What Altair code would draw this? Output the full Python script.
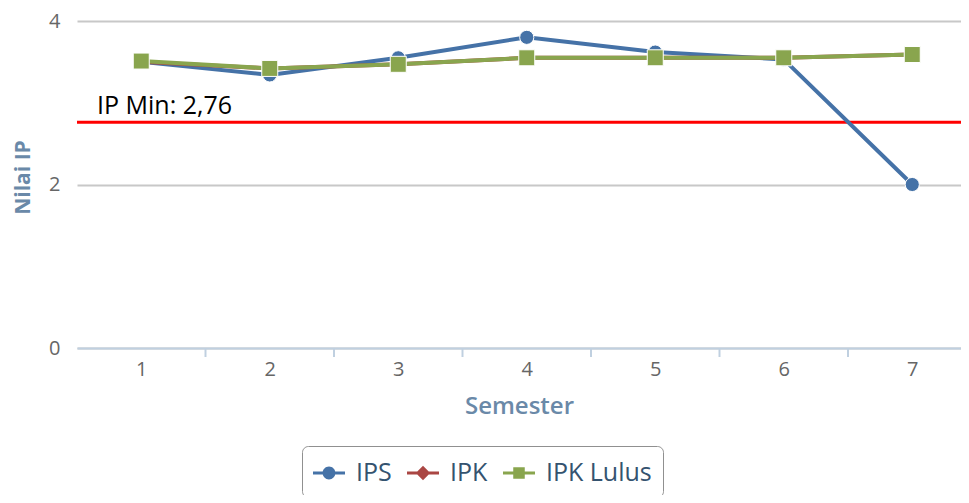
import altair as alt
import pandas as pd

# ---- data ----
semesters = [1, 2, 3, 4, 5, 6, 7]
ips = [3.50, 3.34, 3.55, 3.80, 3.62, 3.53, 2.00]
ipk = [3.50, 3.42, 3.47, 3.55, 3.55, 3.55, 3.59]
ipk_lulus = [3.51, 3.42, 3.47, 3.55, 3.55, 3.55, 3.59]
series_names = ["IPS", "IPK", "IPK Lulus"]
series_colors = ["#4572A7", "#AA4643", "#89A54E"]
series_shapes = ["circle", "diamond", "square"]
series_sizes = [200, 200, 256]
ip_min = 2.76
ip_min_label = "IP Min: 2,76"
y_ticks = [0, 2, 4]
tick_bounds = [1.5, 2.5, 3.5, 4.5, 5.5, 6.5]

rows = []
for name, vals in zip(series_names, [ips, ipk, ipk_lulus]):
    for s, v in zip(semesters, vals):
        rows.append({"semester": s, "nilai": v, "series": name})
df = pd.DataFrame(rows)
df_min = pd.DataFrame({"v": [ip_min], "label": [ip_min_label]})
df_ticks = pd.DataFrame({"b": tick_bounds})

FONT = "Open Sans"
TOP = 13
W, H = 884, 327
STEP = 128.5
x_scale = alt.Scale(domain=[0.5, 0.5 + W / STEP], nice=False, zero=False)
y_scale = alt.Scale(domain=[0, 4], nice=False, zero=True)

x_axis = alt.Axis(
    values=semesters, format="d", grid=False, ticks=False,
    domainColor="#C0D0E0", domainWidth=2,
    labelFont=FONT, labelFontSize=20, labelColor="#666666", labelPadding=11,
    labelFlush=False,
    titleFont=FONT, titleFontSize=24, titleFontWeight=600, titleColor="#6A89A8",
    titleY=58, titleBaseline="middle",
)
y_axis = alt.Axis(
    values=y_ticks, grid=True, gridColor="#C8C8C8", gridWidth=2,
    domain=False, ticks=False,
    labelFont=FONT, labelFontSize=20, labelColor="#666666", labelPadding=17,
    titleFont=FONT, titleFontSize=21, titleFontWeight="bold", titleColor="#6A89A8",
    titleX=-54, titleY=156, titleAngle=-90, titleBaseline="middle", titleAlign="center",
)

X = lambda f: alt.X(f, scale=x_scale, axis=x_axis, title="Semester")
Y = lambda f: alt.Y(f, scale=y_scale, axis=y_axis, title="Nilai IP")

layers = []

# minimum IP line and label
layers.append(
    alt.Chart(df_min).mark_rule(color="#FF0000", strokeWidth=3).encode(y=Y("v:Q"))
)
layers.append(
    alt.Chart(df_min).mark_text(
        align="left", baseline="alphabetic", dy=-8, font=FONT, fontSize=25, color="#000000"
    ).encode(x=alt.value(20), y=Y("v:Q"), text="label:N")
)

# category boundary tick marks on the x axis
layers.append(
    alt.Chart(df_ticks).mark_rule(color="#C0D0E0", strokeWidth=2).encode(
        x=X("b:Q"), y=alt.value(H), y2=alt.value(H + 9)
    )
)

for name, color, shape, size in zip(series_names, series_colors, series_shapes, series_sizes):
    sub = alt.Chart(df).transform_filter(alt.datum.series == name)
    layers.append(
        sub.mark_line(color=color, strokeWidth=4).encode(x=X("semester:Q"), y=Y("nilai:Q"))
    )
    layers.append(
        sub.mark_point(
            shape=shape, filled=True, size=size, color=color, fill=color,
            stroke="#FFFFFF", strokeWidth=1, opacity=1
        ).encode(x=X("semester:Q"), y=Y("nilai:Q"))
    )

# legend (symbols show line + marker)
bar = "M-1,-0.1L1,-0.1L1,0.1L-1,0.1Z"
legend_paths = [
    bar + " M0.4,0 A0.4,0.4 0 1 1 -0.4,0 A0.4,0.4 0 1 1 0.4,0 Z",
    bar + " M0,-0.45L0.45,0L0,0.45L-0.45,0Z",
    bar + " M-0.36,-0.36L0.36,-0.36L0.36,0.36L-0.36,0.36Z",
]
leg = alt.Legend(
    title=None, orient="none", legendX=225, legendY=427 - (TOP - 11), direction="horizontal",
    strokeColor="#909090", fillColor="#FFFFFF", cornerRadius=6, padding=11,
    symbolSize=1024, symbolStrokeWidth=0, symbolOpacity=1,
    labelFont=FONT, labelFontSize=25, labelColor="#34536F", labelOffset=11,
    columnPadding=15,
)
layers.append(
    alt.Chart(df).transform_filter("false").mark_point(filled=True, opacity=1).encode(
        x=X("semester:Q"), y=Y("nilai:Q"),
        color=alt.Color("series:N", scale=alt.Scale(domain=series_names, range=series_colors), legend=leg),
        shape=alt.Shape("series:N", scale=alt.Scale(domain=series_names, range=legend_paths), legend=leg),
    )
)

chart = alt.layer(*layers).properties(
    width=W, height=H,
    autosize=alt.AutoSizeParams(type="none"),
    padding={"left": 69, "top": TOP, "right": 0, "bottom": 487 - TOP - H},
    background="#FFFFFF",
).configure_view(stroke=None)

chart.save("out.html", embed_options={"renderer": "svg", "actions": False})
